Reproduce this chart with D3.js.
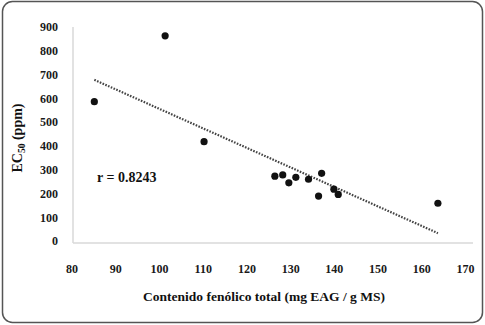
<!DOCTYPE html>
<html>
<head>
<meta charset="utf-8">
<script src="https://cdn.jsdelivr.net/npm/d3@7"></script>
<style>
  html, body { margin: 0; padding: 0; background: #fff; }
  svg { display: block; }
</style>
</head>
<body>
<svg id="chart" width="485" height="325"></svg>
<script>
// Data
const phenolic = [85.2, 101.4, 110.3, 126.5, 128.3, 129.7, 131.3, 134.2, 137.2, 136.5, 140.0, 141.0, 163.8];
const ec50     = [590, 867, 422, 277, 282, 249, 272, 264, 289, 193, 222, 200, 163];
const xTicks = [80, 90, 100, 110, 120, 130, 140, 150, 160, 170];
const yTicks = [0, 100, 200, 300, 400, 500, 600, 700, 800, 900];
const rLabel = "r = 0.8243";
const xTitle = "Contenido fenólico total (mg EAG / g MS)";

const svg = d3.select("#chart");
const font = "Liberation Serif, Times New Roman, serif";

// frame
svg.append("rect")
  .attr("x", 2.5).attr("y", 1.5).attr("width", 480).attr("height", 321)
  .attr("rx", 10).attr("ry", 10)
  .attr("fill", "#fff").attr("stroke", "#555").attr("stroke-width", 1.5);

const x = d3.scaleLinear().domain([80, 170]).range([71.6, 465]);
const y = d3.scaleLinear().domain([0, 900]).range([242, 28]);

const plotLeft = 73, plotRight = 473, plotTop = 27, plotBottom = 243;

// axis lines (light gray)
svg.append("line").attr("x1", plotLeft).attr("x2", plotLeft).attr("y1", plotTop).attr("y2", plotBottom)
  .attr("stroke", "#d9d9d9").attr("stroke-width", 1.5);
svg.append("line").attr("x1", plotLeft).attr("x2", plotRight).attr("y1", plotBottom).attr("y2", plotBottom)
  .attr("stroke", "#d9d9d9").attr("stroke-width", 1.5);

// Y axis labels
const yAxis = svg.append("g").attr("transform", "translate(58,-1)")
  .call(d3.axisLeft(y).tickValues(yTicks).tickSize(0).tickPadding(0));
yAxis.attr("font-family", null);
yAxis.select(".domain").remove();
yAxis.selectAll("text")
  .style("font-family", font).style("font-size", "12px").style("font-weight", "bold").attr("fill", "#1a1a1a");

// X axis labels
const xAxis = svg.append("g").attr("transform", "translate(0,264)")
  .call(d3.axisBottom(x).tickValues(xTicks).tickSize(0).tickPadding(0));
xAxis.attr("font-family", null);
xAxis.select(".domain").remove();
xAxis.selectAll("text")
  .style("font-family", font).style("font-size", "12px").style("font-weight", "bold").attr("fill", "#1a1a1a");

// regression trend line
const n = phenolic.length;
const mx = d3.mean(phenolic), my = d3.mean(ec50);
let sxy = 0, sxx = 0;
for (let i = 0; i < n; i++) { sxy += (phenolic[i]-mx)*(ec50[i]-my); sxx += (phenolic[i]-mx)**2; }
const slope = sxy / sxx, intercept = my - slope * mx;
const [xmin, xmax] = d3.extent(phenolic);
svg.append("line")
  .attr("x1", x(xmin)).attr("y1", y(slope*xmin + intercept))
  .attr("x2", x(xmax)).attr("y2", y(slope*xmax + intercept))
  .attr("stroke", "#444").attr("stroke-width", 2.2)
  .attr("stroke-dasharray", "1.6,1.4");

// points
svg.append("g").selectAll("circle")
  .data(phenolic.map((v, i) => [v, ec50[i]]))
  .join("circle")
  .attr("cx", d => x(d[0])).attr("cy", d => y(d[1]))
  .attr("r", 3.6).attr("fill", "#111");

// r label
svg.append("text").attr("x", 97).attr("y", 182)
  .style("font-family", font).style("font-size", "14px").style("font-weight", "bold").attr("fill", "#111")
  .text(rLabel);

// x title
svg.append("text").attr("x", 264).attr("y", 301).attr("text-anchor", "middle")
  .style("font-family", font).style("font-size", "13.5px").style("font-weight", "bold").attr("fill", "#111")
  .text(xTitle);

// y title
const yt = svg.append("text").attr("transform", "translate(22,138) rotate(-90)")
  .attr("text-anchor", "middle")
  .style("font-family", font).style("font-size", "14px").style("font-weight", "bold").attr("fill", "#111");
yt.append("tspan").text("EC");
yt.append("tspan").style("font-size", "9.5px").attr("dy", 3).text("50");
yt.append("tspan").attr("dy", -3).text(" (ppm)");
</script>
</body>
</html>
